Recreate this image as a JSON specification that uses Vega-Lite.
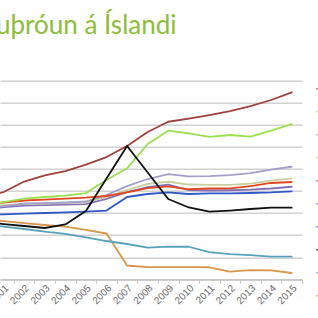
{
  "$schema": "https://vega.github.io/schema/vega-lite/v6.json",
  "width": 302,
  "height": 198.6,
  "autosize": {"type": "none"},
  "padding": {"left": 0, "top": 80.7, "right": 16, "bottom": 38.7},
  "background": "white",
  "title": {"text": "uþróun á Íslandi", "anchor": "start", "frame": "group", "orient": "top", "offset": 21, "baseline": "alphabetic", "dx": -4, "font": "Lato", "fontSize": 26, "fontWeight": "normal", "color": "#8DBD3A"},
  "datasets": {
    "d": [
      {"rod": "Röð 10", "ar": 2000, "gildi": 54.2}, {"rod": "Röð 10", "ar": 2001, "gildi": 52.8}, {"rod": "Röð 10", "ar": 2002, "gildi": 51.0}, {"rod": "Röð 10", "ar": 2003, "gildi": 49.2}, {"rod": "Röð 10", "ar": 2004, "gildi": 47.8}, {"rod": "Röð 10", "ar": 2005, "gildi": 44.7}, {"rod": "Röð 10", "ar": 2006, "gildi": 41.5}, {"rod": "Röð 10", "ar": 2007, "gildi": 12.5}, {"rod": "Röð 10", "ar": 2008, "gildi": 11.1}, {"rod": "Röð 10", "ar": 2009, "gildi": 11.1}, {"rod": "Röð 10", "ar": 2010, "gildi": 11.1}, {"rod": "Röð 10", "ar": 2011, "gildi": 10.9}, {"rod": "Röð 10", "ar": 2012, "gildi": 6.9}, {"rod": "Röð 10", "ar": 2013, "gildi": 8.4}, {"rod": "Röð 10", "ar": 2014, "gildi": 8.0}, {"rod": "Röð 10", "ar": 2015, "gildi": 5.7},
      {"rod": "Röð 9", "ar": 2000, "gildi": 50.1}, {"rod": "Röð 9", "ar": 2001, "gildi": 47.8}, {"rod": "Röð 9", "ar": 2002, "gildi": 45.6}, {"rod": "Röð 9", "ar": 2003, "gildi": 43.3}, {"rod": "Röð 9", "ar": 2004, "gildi": 41.1}, {"rod": "Röð 9", "ar": 2005, "gildi": 37.9}, {"rod": "Röð 9", "ar": 2006, "gildi": 34.7}, {"rod": "Röð 9", "ar": 2007, "gildi": 32.0}, {"rod": "Röð 9", "ar": 2008, "gildi": 28.8}, {"rod": "Röð 9", "ar": 2009, "gildi": 29.7}, {"rod": "Röð 9", "ar": 2010, "gildi": 29.5}, {"rod": "Röð 9", "ar": 2011, "gildi": 24.7}, {"rod": "Röð 9", "ar": 2012, "gildi": 22.9}, {"rod": "Röð 9", "ar": 2013, "gildi": 22.0}, {"rod": "Röð 9", "ar": 2014, "gildi": 20.5}, {"rod": "Röð 9", "ar": 2015, "gildi": 20.5},
      {"rod": "Röð 7", "ar": 2000, "gildi": 58.3}, {"rod": "Röð 7", "ar": 2001, "gildi": 58.9}, {"rod": "Röð 7", "ar": 2002, "gildi": 59.6}, {"rod": "Röð 7", "ar": 2003, "gildi": 60.1}, {"rod": "Röð 7", "ar": 2004, "gildi": 60.7}, {"rod": "Röð 7", "ar": 2005, "gildi": 61.4}, {"rod": "Röð 7", "ar": 2006, "gildi": 62.3}, {"rod": "Röð 7", "ar": 2007, "gildi": 74.6}, {"rod": "Röð 7", "ar": 2008, "gildi": 77.3}, {"rod": "Röð 7", "ar": 2009, "gildi": 78.7}, {"rod": "Röð 7", "ar": 2010, "gildi": 77.3}, {"rod": "Röð 7", "ar": 2011, "gildi": 77.8}, {"rod": "Röð 7", "ar": 2012, "gildi": 77.9}, {"rod": "Röð 7", "ar": 2013, "gildi": 78.2}, {"rod": "Röð 7", "ar": 2014, "gildi": 78.7}, {"rod": "Röð 7", "ar": 2015, "gildi": 79.7},
      {"rod": "Röð 6", "ar": 2000, "gildi": 62.8}, {"rod": "Röð 6", "ar": 2001, "gildi": 65.5}, {"rod": "Röð 6", "ar": 2002, "gildi": 66.9}, {"rod": "Röð 6", "ar": 2003, "gildi": 67.3}, {"rod": "Röð 6", "ar": 2004, "gildi": 67.8}, {"rod": "Röð 6", "ar": 2005, "gildi": 68.2}, {"rod": "Röð 6", "ar": 2006, "gildi": 72.8}, {"rod": "Röð 6", "ar": 2007, "gildi": 79.1}, {"rod": "Röð 6", "ar": 2008, "gildi": 83.6}, {"rod": "Röð 6", "ar": 2009, "gildi": 85.9}, {"rod": "Röð 6", "ar": 2010, "gildi": 80.9}, {"rod": "Röð 6", "ar": 2011, "gildi": 80.5}, {"rod": "Röð 6", "ar": 2012, "gildi": 80.7}, {"rod": "Röð 6", "ar": 2013, "gildi": 81.2}, {"rod": "Röð 6", "ar": 2014, "gildi": 82.3}, {"rod": "Röð 6", "ar": 2015, "gildi": 83.9},
      {"rod": "Röð 4", "ar": 2000, "gildi": 65.5}, {"rod": "Röð 4", "ar": 2001, "gildi": 67.3}, {"rod": "Röð 4", "ar": 2002, "gildi": 68.2}, {"rod": "Röð 4", "ar": 2003, "gildi": 68.7}, {"rod": "Röð 4", "ar": 2004, "gildi": 69.1}, {"rod": "Röð 4", "ar": 2005, "gildi": 70.0}, {"rod": "Röð 4", "ar": 2006, "gildi": 74.6}, {"rod": "Röð 4", "ar": 2007, "gildi": 80.9}, {"rod": "Röð 4", "ar": 2008, "gildi": 86.4}, {"rod": "Röð 4", "ar": 2009, "gildi": 88.4}, {"rod": "Röð 4", "ar": 2010, "gildi": 85.9}, {"rod": "Röð 4", "ar": 2011, "gildi": 85.5}, {"rod": "Röð 4", "ar": 2012, "gildi": 85.5}, {"rod": "Röð 4", "ar": 2013, "gildi": 86.8}, {"rod": "Röð 4", "ar": 2014, "gildi": 89.5}, {"rod": "Röð 4", "ar": 2015, "gildi": 91.5},
      {"rod": "Röð 3", "ar": 2000, "gildi": 63.7}, {"rod": "Röð 3", "ar": 2001, "gildi": 66.4}, {"rod": "Röð 3", "ar": 2002, "gildi": 68.7}, {"rod": "Röð 3", "ar": 2003, "gildi": 69.1}, {"rod": "Röð 3", "ar": 2004, "gildi": 69.6}, {"rod": "Röð 3", "ar": 2005, "gildi": 70.5}, {"rod": "Röð 3", "ar": 2006, "gildi": 76.4}, {"rod": "Röð 3", "ar": 2007, "gildi": 84.5}, {"rod": "Röð 3", "ar": 2008, "gildi": 90.9}, {"rod": "Röð 3", "ar": 2009, "gildi": 95.4}, {"rod": "Röð 3", "ar": 2010, "gildi": 93.2}, {"rod": "Röð 3", "ar": 2011, "gildi": 93.6}, {"rod": "Röð 3", "ar": 2012, "gildi": 94.5}, {"rod": "Röð 3", "ar": 2013, "gildi": 96.3}, {"rod": "Röð 3", "ar": 2014, "gildi": 99.5}, {"rod": "Röð 3", "ar": 2015, "gildi": 102.0},
      {"rod": "Röð 5", "ar": 2000, "gildi": 67.3}, {"rod": "Röð 5", "ar": 2001, "gildi": 69.6}, {"rod": "Röð 5", "ar": 2002, "gildi": 71.4}, {"rod": "Röð 5", "ar": 2003, "gildi": 72.3}, {"rod": "Röð 5", "ar": 2004, "gildi": 73.2}, {"rod": "Röð 5", "ar": 2005, "gildi": 74.1}, {"rod": "Röð 5", "ar": 2006, "gildi": 75.5}, {"rod": "Röð 5", "ar": 2007, "gildi": 78.7}, {"rod": "Röð 5", "ar": 2008, "gildi": 82.7}, {"rod": "Röð 5", "ar": 2009, "gildi": 84.3}, {"rod": "Röð 5", "ar": 2010, "gildi": 81.6}, {"rod": "Röð 5", "ar": 2011, "gildi": 82.3}, {"rod": "Röð 5", "ar": 2012, "gildi": 82.5}, {"rod": "Röð 5", "ar": 2013, "gildi": 84.5}, {"rod": "Röð 5", "ar": 2014, "gildi": 87.3}, {"rod": "Röð 5", "ar": 2015, "gildi": 88.2},
      {"rod": "Röð 2", "ar": 2000, "gildi": 66.4}, {"rod": "Röð 2", "ar": 2001, "gildi": 70.0}, {"rod": "Röð 2", "ar": 2002, "gildi": 73.2}, {"rod": "Röð 2", "ar": 2003, "gildi": 74.6}, {"rod": "Röð 2", "ar": 2004, "gildi": 75.9}, {"rod": "Röð 2", "ar": 2005, "gildi": 78.2}, {"rod": "Röð 2", "ar": 2006, "gildi": 90.0}, {"rod": "Röð 2", "ar": 2007, "gildi": 100.6}, {"rod": "Röð 2", "ar": 2008, "gildi": 122.6}, {"rod": "Röð 2", "ar": 2009, "gildi": 134.7}, {"rod": "Röð 2", "ar": 2010, "gildi": 132.3}, {"rod": "Röð 2", "ar": 2011, "gildi": 129.0}, {"rod": "Röð 2", "ar": 2012, "gildi": 130.8}, {"rod": "Röð 2", "ar": 2013, "gildi": 129.4}, {"rod": "Röð 2", "ar": 2014, "gildi": 134.7}, {"rod": "Röð 2", "ar": 2015, "gildi": 140.7},
      {"rod": "Röð 1", "ar": 2000, "gildi": 74.6}, {"rod": "Röð 1", "ar": 2001, "gildi": 79.1}, {"rod": "Röð 1", "ar": 2002, "gildi": 88.6}, {"rod": "Röð 1", "ar": 2003, "gildi": 94.1}, {"rod": "Röð 1", "ar": 2004, "gildi": 98.1}, {"rod": "Röð 1", "ar": 2005, "gildi": 104.0}, {"rod": "Röð 1", "ar": 2006, "gildi": 110.8}, {"rod": "Röð 1", "ar": 2007, "gildi": 120.8}, {"rod": "Röð 1", "ar": 2008, "gildi": 133.5}, {"rod": "Röð 1", "ar": 2009, "gildi": 142.8}, {"rod": "Röð 1", "ar": 2010, "gildi": 145.7}, {"rod": "Röð 1", "ar": 2011, "gildi": 148.9}, {"rod": "Röð 1", "ar": 2012, "gildi": 152.5}, {"rod": "Röð 1", "ar": 2013, "gildi": 157.0}, {"rod": "Röð 1", "ar": 2014, "gildi": 162.5}, {"rod": "Röð 1", "ar": 2015, "gildi": 169.5},
      {"rod": "Röð 8", "ar": 2000, "gildi": 51.9}, {"rod": "Röð 8", "ar": 2001, "gildi": 50.1}, {"rod": "Röð 8", "ar": 2002, "gildi": 48.3}, {"rod": "Röð 8", "ar": 2003, "gildi": 46.5}, {"rod": "Röð 8", "ar": 2004, "gildi": 49.7}, {"rod": "Röð 8", "ar": 2005, "gildi": 61.9}, {"rod": "Röð 8", "ar": 2006, "gildi": 91.3}, {"rod": "Röð 8", "ar": 2007, "gildi": 120.8}, {"rod": "Röð 8", "ar": 2008, "gildi": 96.8}, {"rod": "Röð 8", "ar": 2009, "gildi": 72.8}, {"rod": "Röð 8", "ar": 2010, "gildi": 65.1}, {"rod": "Röð 8", "ar": 2011, "gildi": 61.3}, {"rod": "Röð 8", "ar": 2012, "gildi": 62.3}, {"rod": "Röð 8", "ar": 2013, "gildi": 63.7}, {"rod": "Röð 8", "ar": 2014, "gildi": 64.9}, {"rod": "Röð 8", "ar": 2015, "gildi": 64.9}
    ]
  },
  "data": {"name": "d"},
  "mark": {"type": "line", "clip": true, "strokeWidth": 1.8, "strokeJoin": "round", "strokeCap": "round"},
  "encoding": {
    "x": {
      "field": "ar", "type": "quantitative",
      "scale": {"domain": [2000.825, 2015.5], "nice": false, "zero": false},
      "axis": {
        "values": [2001, 2002, 2003, 2004, 2005, 2006, 2007, 2008, 2009, 2010, 2011, 2012, 2013, 2014, 2015],
        "format": "d", "title": null, "grid": false,
        "labelAngle": -45, "labelAlign": "right", "labelBaseline": "middle",
        "labelFont": "Liberation Sans", "labelFontSize": 10, "labelColor": "#6A6A6A",
        "labelPadding": 3, "labelOverlap": false, "labelFlush": false,
        "ticks": true, "tickOffset": 10.3, "labelOffset": -7.3, "tickSize": 4, "tickColor": "#C8C8C8", "tickWidth": 1,
        "domainColor": "#C8C8C8", "domainWidth": 1.5
      }
    },
    "y": {
      "field": "gildi", "type": "quantitative",
      "scale": {"domain": [0, 180], "nice": false, "zero": true},
      "axis": {
        "values": [0, 20, 40, 60, 80, 100, 120, 140, 160, 180],
        "title": null, "labels": false, "ticks": false, "domain": false,
        "grid": true, "gridColor": "#D2D2D2", "gridWidth": 1.4
      }
    },
    "color": {
      "field": "rod", "type": "nominal",
      "scale": {
        "domain": ["Röð 1", "Röð 2", "Röð 3", "Röð 4", "Röð 5", "Röð 6", "Röð 7", "Röð 8", "Röð 9", "Röð 10"],
        "range": ["#A0413E", "#9ADF4E", "#A3A0CC", "#C9CFA0", "#E2461F", "#8470B8", "#3057C8", "#111111", "#55A2BA", "#D9954A"]
      },
      "legend": {
        "orient": "none", "legendX": 315, "legendY": 2, "title": null, "labelExpr": "''",
        "symbolType": "stroke", "symbolStrokeWidth": 1.5, "symbolSize": 100, "symbolOpacity": 0.6,
        "rowPadding": 12, "labelFontSize": 10, "direction": "vertical"
      }
    },
    "strokeWidth": {"condition": {"test": "datum.rod === 'Röð 5' || datum.rod === 'Röð 8'", "value": 2.3}, "value": 1.7}
  },
  "config": {"view": {"stroke": null}}
}
